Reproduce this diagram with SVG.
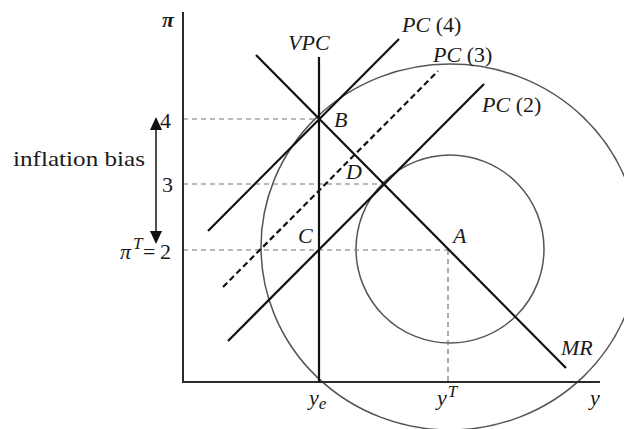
<svg xmlns="http://www.w3.org/2000/svg" width="624" height="429" viewBox="0 0 624 429">
<style>
.ax{stroke:#2a2a2a;stroke-width:2;fill:none}
.ln{stroke:#111;stroke-width:2.2;fill:none}
.dl{stroke:#111;stroke-width:2.2;fill:none;stroke-dasharray:6 3.5}
.gd{stroke:#777;stroke-width:1.2;fill:none;stroke-dasharray:5 4}
.cr{stroke:#555;stroke-width:1.5;fill:none}
text{font-family:"Liberation Serif","Times New Roman",serif;font-size:22px;fill:#1a1a1a}
.it{font-style:italic}
.sup{font-style:italic;font-size:17px}
</style>
<rect width="624" height="429" fill="#fff"/>
<g id="circles">
<ellipse class="cr" cx="450" cy="247" rx="189" ry="183"/>
<circle class="cr" cx="450" cy="249" r="94"/>
</g>
<g id="guides">
<line class="gd" x1="183" y1="119" x2="319" y2="119"/>
<line class="gd" x1="183" y1="184" x2="383" y2="184"/>
<line class="gd" x1="183" y1="250" x2="448" y2="250"/>
<line class="gd" x1="448" y1="250" x2="448" y2="382"/>
</g>
<g id="axes">
<line class="ax" x1="183" y1="12" x2="183" y2="382"/>
<line class="ax" x1="182" y1="382" x2="600" y2="382"/>
</g>
<g id="connectors">
<line id="VPC" class="ln" x1="319" y1="57" x2="319" y2="382"/>
<line id="MR" class="ln" x1="256" y1="55" x2="566" y2="368"/>
<line id="PC4" class="ln" x1="208" y1="231" x2="399" y2="39"/>
<line id="PC3" class="dl" x1="223" y1="287" x2="438" y2="71"/>
<line id="PC2" class="ln" x1="228" y1="341" x2="484" y2="84"/>
</g>
<g id="bias-arrow">
<line x1="156" y1="128" x2="156" y2="233" stroke="#222" stroke-width="1.6"/>
<polygon points="156,117 150,130 162,130" fill="#111"/>
<polygon points="156,244 150,231 162,231" fill="#111"/>
</g>
<g id="labels">
<text class="it" x="162" y="27" font-weight="bold" font-size="20">π</text>
<text x="160" y="128">4</text>
<text x="162" y="192">3</text>
<text x="13" y="166" textLength="132" lengthAdjust="spacingAndGlyphs">inflation bias</text>
<text y="259"><tspan class="it" x="120">π</tspan><tspan class="sup" x="133" dy="-10">T</tspan><tspan x="143" dy="10">=</tspan><tspan x="160">2</tspan></text>
<text x="288" y="50" class="it">VPC</text>
<text x="402" y="32"><tspan class="it">PC</tspan> (4)</text>
<text x="433" y="62"><tspan class="it">PC</tspan> (3)</text>
<text x="482" y="112"><tspan class="it">PC</tspan> (2)</text>
<text class="it" x="334" y="127">B</text>
<text class="it" x="346" y="179">D</text>
<text class="it" x="298" y="243">C</text>
<text class="it" x="453" y="243">A</text>
<text class="it" x="561" y="355">MR</text>
<text x="309" y="405"><tspan class="it">y</tspan><tspan class="sup" font-size="15" dy="4">e</tspan></text>
<text x="437" y="405"><tspan class="it">y</tspan><tspan class="sup" dx="1" dy="-8">T</tspan></text>
<text class="it" x="590" y="405">y</text>
</g>
</svg>
